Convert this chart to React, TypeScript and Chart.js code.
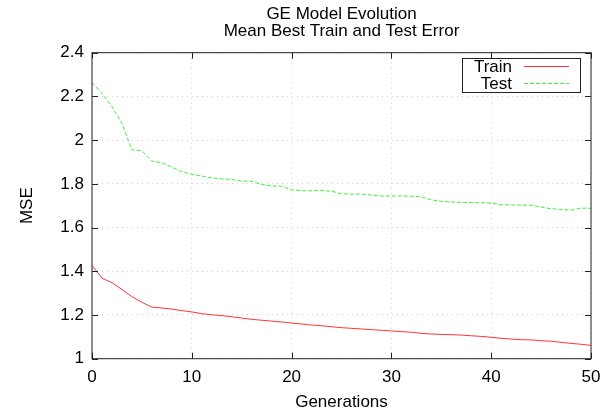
import React, { useEffect, useRef } from 'react';
import { Chart, registerables } from 'chart.js';

Chart.register(...registerables);

const generations = [
  0, 1, 2, 3, 4, 5, 6, 7, 8, 9, 10, 11, 12, 13, 14, 15, 16, 17, 18, 19, 20,
  21, 22, 23, 24, 25, 26, 27, 28, 29, 30, 31, 32, 33, 34, 35, 36, 37, 38, 39, 40,
  41, 42, 43, 44, 45, 46, 47, 48, 49, 50,
];

const trainValues = [
  1.427, 1.368, 1.348, 1.317, 1.284, 1.258, 1.236, 1.232, 1.227, 1.220, 1.214,
  1.206, 1.201, 1.197, 1.192, 1.186, 1.180, 1.176, 1.172, 1.168, 1.163,
  1.159, 1.154, 1.151, 1.146, 1.142, 1.139, 1.136, 1.133, 1.130, 1.127,
  1.124, 1.121, 1.116, 1.113, 1.111, 1.110, 1.108, 1.105, 1.102, 1.098,
  1.093, 1.090, 1.087, 1.086, 1.082, 1.080, 1.075, 1.070, 1.066, 1.061,
];

const testValues = [
  2.263, 2.214, 2.153, 2.077, 1.955, 1.951, 1.904, 1.897, 1.876, 1.856, 1.843,
  1.836, 1.827, 1.823, 1.820, 1.812, 1.812, 1.797, 1.790, 1.789, 1.772,
  1.769, 1.768, 1.770, 1.766, 1.755, 1.753, 1.753, 1.749, 1.744, 1.744,
  1.745, 1.743, 1.741, 1.727, 1.720, 1.717, 1.715, 1.714, 1.714, 1.712,
  1.705, 1.703, 1.703, 1.702, 1.694, 1.686, 1.683, 1.680, 1.689, 1.688,
];

const xTickValues = [0, 10, 20, 30, 40, 50];
const yTickValues = [1, 1.2, 1.4, 1.6, 1.8, 2, 2.2, 2.4];
const titleLines = ['GE Model Evolution', 'Mean Best Train and Test Error'];
const seriesNames = ['Train', 'Test'];
const xAxisTitle = 'Generations';
const yAxisTitle = 'MSE';

const FONT = '"Liberation Sans", Arial, Helvetica, sans-serif';
const FONT_SIZE = 17;

const gnuplotPlugin = {
  id: 'gnuplotDecor',
  afterDatasetsDraw(chart: any) {
    const { ctx, chartArea } = chart;
    const { left, right, top, bottom } = chartArea;
    const xs = chart.scales.x;
    const ys = chart.scales.y;
    ctx.save();
    // frame
    ctx.strokeStyle = '#222';
    ctx.lineWidth = 1;
    ctx.setLineDash([]);
    ctx.strokeRect(left, top, right - left, bottom - top);
    // inward ticks
    const tl = 6;
    ctx.beginPath();
    xTickValues.forEach((v) => {
      const px = Math.round(xs.getPixelForValue(v)) + 0.5;
      ctx.moveTo(px, bottom);
      ctx.lineTo(px, bottom - tl);
      ctx.moveTo(px, top);
      ctx.lineTo(px, top + tl);
    });
    yTickValues.forEach((v) => {
      const py = Math.round(ys.getPixelForValue(v)) + 0.5;
      ctx.moveTo(left, py);
      ctx.lineTo(left + tl, py);
      ctx.moveTo(right, py);
      ctx.lineTo(right - tl, py);
    });
    ctx.stroke();

    // title
    ctx.fillStyle = '#000';
    ctx.font = `${FONT_SIZE}px ${FONT}`;
    ctx.textAlign = 'center';
    ctx.textBaseline = 'alphabetic';
    const cx = (left + right) / 2;
    titleLines.forEach((t, i) => {
      ctx.fillText(t, cx, 19 + i * 17);
    });

    // legend
    const bx = 462.5, by = 58.5, bw = 118, bh = 34;
    ctx.fillStyle = '#fff';
    ctx.fillRect(bx, by, bw, bh);
    ctx.strokeStyle = '#222';
    ctx.strokeRect(bx, by, bw, bh);
    ctx.textAlign = 'right';
    ctx.textBaseline = 'alphabetic';
    chart.data.datasets.forEach((ds: any, i: number) => {
      const ly = 66 + i * 17;
      ctx.fillStyle = '#000';
      ctx.fillText(ds.label, 512, ly + 6);
      ctx.strokeStyle = ds.borderColor;
      ctx.lineWidth = 1;
      ctx.setLineDash(ds.borderDash || []);
      ctx.beginPath();
      ctx.moveTo(524, ly + 0.5);
      ctx.lineTo(569, ly + 0.5);
      ctx.stroke();
    });
    ctx.restore();
  },
};

export default function App() {
  const ref = useRef<HTMLCanvasElement | null>(null);
  useEffect(() => {
    if (!ref.current) return;
    const font = { family: FONT, size: FONT_SIZE };
    const chart = new Chart(ref.current, {
      type: 'line',
      data: {
        datasets: [
          {
            label: seriesNames[0],
            data: generations.map((g, i) => ({ x: g, y: trainValues[i] })),
            borderColor: 'rgba(255,0,0,0.8)',
            borderWidth: 1,
            pointRadius: 0,
            tension: 0,
            fill: false,
          },
          {
            label: seriesNames[1],
            data: generations.map((g, i) => ({ x: g, y: testValues[i] })),
            borderColor: 'rgba(0,230,0,0.75)',
            borderWidth: 1,
            borderDash: [4, 2],
            pointRadius: 0,
            tension: 0,
            fill: false,
          },
        ],
      },
      options: {
        responsive: false,
        animation: false,
        events: [],
        layout: { padding: { top: 52.7, right: 25, left: 0, bottom: 0 } },
        plugins: {
          legend: { display: false },
          title: { display: false },
          tooltip: { enabled: false },
        },
        scales: {
          x: {
            type: 'linear',
            min: 0,
            max: 50,
            afterBuildTicks: (s: any) => {
              s.ticks = xTickValues.map((v) => ({ value: v }));
            },
            ticks: { color: '#000', font, padding: 8, maxRotation: 0 },
            grid: { color: '#cfcfcf', drawTicks: false, lineWidth: 1 },
            border: { display: false, dash: [1, 4] },
            title: {
              display: true,
              text: xAxisTitle,
              color: '#000',
              font,
              padding: { top: 0, bottom: 0 },
            },
            afterFit: (s: any) => {
              s.height = 413 - 358.7;
            },
          },
          y: {
            type: 'linear',
            min: 1,
            max: 2.4,
            afterBuildTicks: (s: any) => {
              s.ticks = yTickValues.map((v) => ({ value: v }));
            },
            ticks: {
              color: '#000',
              font,
              padding: 8,
              callback: (v: any) => String(Math.round(Number(v) * 10) / 10),
            },
            grid: { color: '#cfcfcf', drawTicks: false, lineWidth: 1 },
            border: { display: false, dash: [1, 4] },
            title: {
              display: true,
              text: yAxisTitle,
              color: '#000',
              font,
              padding: { top: 17, bottom: 0 },
            },
            afterFit: (s: any) => {
              s.width = 92;
            },
          },
        },
      },
      plugins: [gnuplotPlugin],
    });
    return () => chart.destroy();
  }, []);
  return (
    <div style={{ position: 'fixed', left: 0, top: 0, width: 616, height: 413, background: '#fff' }}>
      <canvas ref={ref} width={616} height={413} style={{ display: 'block' }} />
    </div>
  );
}
